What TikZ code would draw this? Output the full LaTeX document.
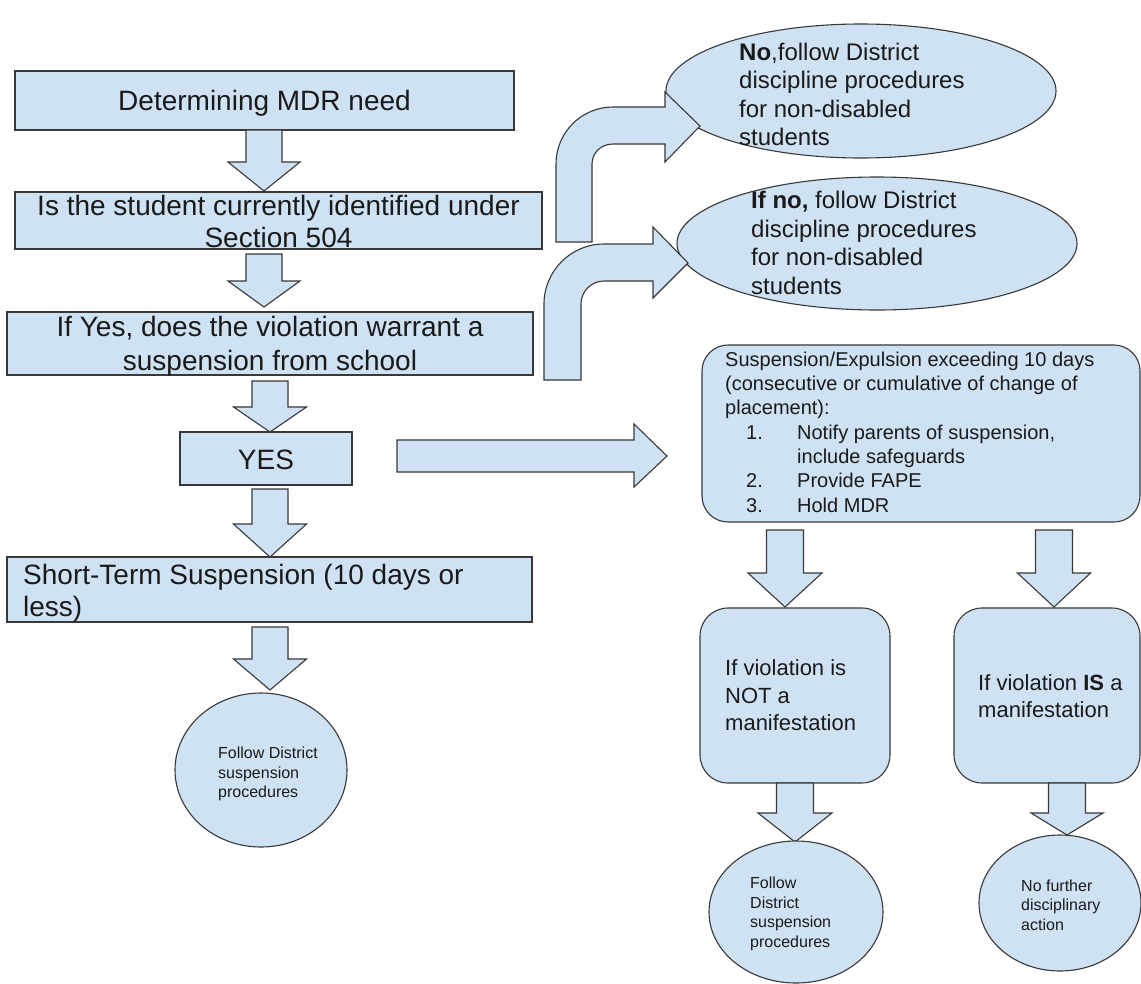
\documentclass[tikz,border=0pt]{standalone}
\usepackage{fontspec}
\setmainfont{Liberation Sans}
\usetikzlibrary{shapes.geometric}
\definecolor{fillblue}{HTML}{CFE2F3}
\definecolor{edgegray}{HTML}{383838}
\definecolor{ink}{HTML}{1A1A1A}
\newcommand{\blockdown}[6]{%
  \draw[barrow] ({#1-#5},#2) -- ({#1+#5},#2) -- ({#1+#5},#3) -- ({#1+#6},#3)
    -- (#1,#4) -- ({#1-#6},#3) -- ({#1-#5},#3) -- cycle;}
\tikzset{
  shapebase/.style={draw=edgegray, fill=fillblue, line width=1.1pt, inner sep=0pt, text=ink},
  box/.style={shapebase, rectangle},
  rbox/.style={shapebase, rectangle, rounded corners=26pt},
  ell/.style={shapebase, ellipse},
  barrow/.style={draw=edgegray, fill=fillblue, line width=1.1pt, line join=miter},
  txt/.style={inner sep=0pt, text=ink, align=left},
  boxtxt/.style={inner sep=0pt, text=ink, align=center, font=\fontsize{28}{32.5}\selectfont},
  bigtxt/.style={txt, font=\fontsize{24}{28.4}\selectfont},
  midtxt/.style={txt, font=\fontsize{20}{24.3}\selectfont},
  mantxt/.style={txt, font=\fontsize{22}{27.5}\selectfont},
  smalltxt/.style={txt, font=\fontsize{16}{19.6}\selectfont},
}
\begin{document}
\begin{tikzpicture}[x=1pt,y=-1pt]
\useasboundingbox[fill=white] (0,0) rectangle (1141,983);

% left column boxes
\node[box, minimum width=499pt, minimum height=59pt] (b1) at (264.5,100.5) {};
\node[boxtxt] (b1t) at (264.5,103) {Determining MDR need};
\node[box, minimum width=527pt, minimum height=57pt] (b2) at (278.5,220.5) {};
\node[boxtxt] (b2t) at (278.5,221.5) {Is the student currently identified under\\Section 504};
\node[box, minimum width=526pt, minimum height=63pt] (b3) at (270,343.5) {};
\node[boxtxt, font=\fontsize{28}{34.5}\selectfont] (b3t) at (270,346.5) {If Yes, does the violation warrant a\\suspension from school};
\node[box, minimum width=172pt, minimum height=53pt] (yes) at (266,458.5) {};
\node[boxtxt] (yest) at (266,459.5) {YES};
\node[box, minimum width=525pt, minimum height=65pt] (short) at (269.5,589.5) {};
\node[boxtxt, align=left, anchor=west] (shortt) at (23,593) {Short-Term Suspension (10 days or\\less)};
\node[ell, minimum width=172pt, minimum height=154pt] (c1) at (261,770) {};

% down arrows left column
\blockdown{264}{130}{162}{191}{18}{36}
\blockdown{264}{254}{281}{307}{18}{36}
\blockdown{270}{381}{407}{432}{18}{36.5}
\blockdown{270}{489}{524}{557}{18}{36.5}
\blockdown{270}{627}{659}{690}{18}{36.5}

% right side ellipses
\node[ell, minimum width=390pt, minimum height=134pt] (e1) at (861,91) {};
\node[ell, minimum width=400pt, minimum height=133pt] (e2) at (877,243.5) {};

% curved arrows
\draw[barrow] (556,242) -- (556,164) .. controls (556,132.5) and (581.5,107) .. (613,107)
  -- (665,107) -- (665,92) -- (700,126) -- (665,162) -- (665,144) -- (613,144)
  .. controls (601.4,144) and (592,152.4) .. (592,164) -- (592,242) -- cycle;
\draw[barrow] (544,380) -- (544,304) .. controls (544,270.9) and (570.9,244) .. (604,244)
  -- (653,244) -- (653,227) -- (688,263) -- (653,298) -- (653,281) -- (604,281)
  .. controls (591.3,281) and (581,291.3) .. (581,304) -- (581,380) -- cycle;

% right arrow from YES
\draw[barrow] (397,440) -- (634,440) -- (634,424) -- (667,456) -- (634,487) -- (634,472) -- (397,472) -- cycle;

% big rounded box
\node[rbox, minimum width=438pt, minimum height=177pt] (big) at (921,433.5) {};
\blockdown{785}{530}{573}{607}{18.5}{37}
\blockdown{1054}{530}{573}{607}{18.5}{36.5}
\node[rbox, minimum width=190pt, minimum height=175pt, rounded corners=28pt] (notm) at (795,695.5) {};
\node[rbox, minimum width=186pt, minimum height=175pt, rounded corners=28pt] (ism) at (1047,695.5) {};
\blockdown{795}{783}{813}{842}{18.5}{37}
\blockdown{1067}{783}{813}{835}{18.5}{36}
\node[ell, minimum width=174pt, minimum height=142pt] (c2) at (796,912) {};
\node[ell, minimum width=162pt, minimum height=136pt] (c3) at (1060,903) {};

% texts
\node[bigtxt, anchor=west] (t1) at (739,94.5) {\textbf{No},follow District\\discipline procedures\\for non-disabled\\students};
\node[bigtxt, anchor=west] (t2) at (751,243) {\textbf{If no,} follow District\\discipline procedures\\for non-disabled\\students};
\node[midtxt, anchor=west] (t3) at (725,432) {Suspension/Expulsion exceeding 10 days\\(consecutive or cumulative of change of\\placement):\\
  \makebox[72pt][l]{\hspace*{21pt}1.}Notify parents of suspension,\\
  \hspace*{72pt}include safeguards\\
  \makebox[72pt][l]{\hspace*{21pt}2.}Provide FAPE\\
  \makebox[72pt][l]{\hspace*{21pt}3.}Hold MDR};
\node[mantxt, anchor=west] (t4) at (725,695.5) {If violation is\\NOT a\\manifestation};
\node[mantxt, anchor=west] (t5) at (978,696) {If violation \textbf{IS} a\\manifestation};
\node[smalltxt, anchor=west] (t6) at (218,774) {Follow District\\suspension\\procedures};
\node[smalltxt, anchor=west] (t7) at (750,914) {Follow\\District\\suspension\\procedures};
\node[smalltxt, anchor=west] (t8) at (1021,905) {No further\\disciplinary\\action};
\end{tikzpicture}
\end{document}
